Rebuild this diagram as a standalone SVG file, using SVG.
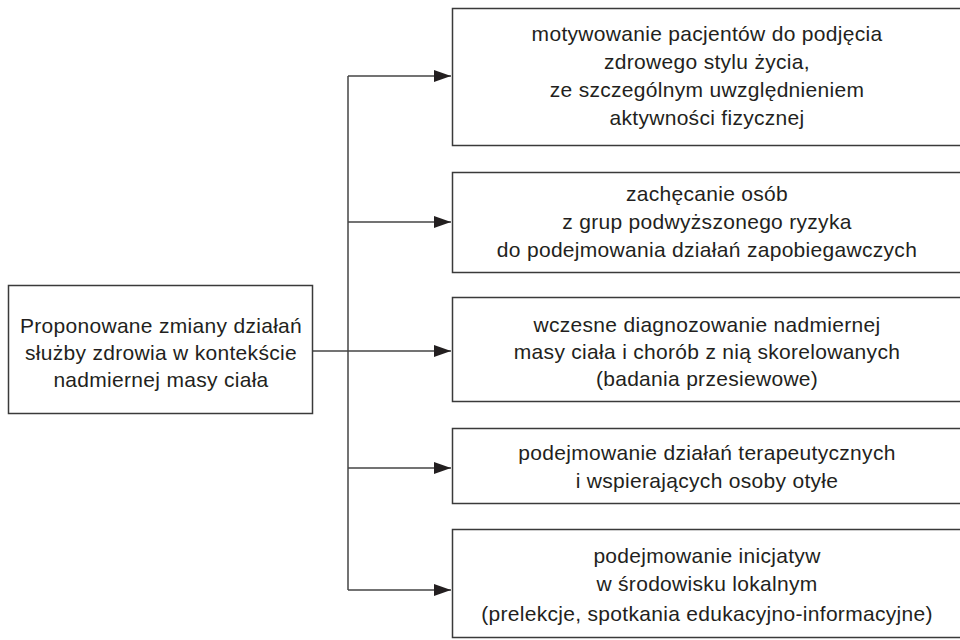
<svg xmlns="http://www.w3.org/2000/svg" width="960" height="640" viewBox="0 0 960 640">
<style>
.box{fill:#fff;stroke:#3a3a3a;stroke-width:1.5}
.t{font-family:"Liberation Sans",Arial,sans-serif;font-size:21px;letter-spacing:0.3px;fill:#231f20;text-anchor:middle}
.c{fill:none;stroke:#444;stroke-width:1.5}
</style>
<defs>
<marker id="ah" markerWidth="17" markerHeight="12" refX="17" refY="6" orient="auto" markerUnits="userSpaceOnUse">
<polygon points="0,0 17,6 0,12" fill="#231f20"/>
</marker>
</defs>
<rect width="960" height="640" fill="#fff"/>
<g id="connectors">
<path class="c" d="M348,76 V590"/>
<path class="c" d="M313,351 H451" marker-end="url(#ah)"/>
<path class="c" d="M348,76 H451" marker-end="url(#ah)"/>
<path class="c" d="M348,222 H451" marker-end="url(#ah)"/>
<path class="c" d="M348,468 H451" marker-end="url(#ah)"/>
<path class="c" d="M348,590 H451" marker-end="url(#ah)"/>
</g>
<g id="source">
<rect class="box" x="8.5" y="285.5" width="304" height="128"/>
<text class="t" x="161" y="333">Proponowane zmiany działań</text>
<text class="t" x="161" y="360">służby zdrowia w kontekście</text>
<text class="t" x="161" y="387">nadmiernej masy ciała</text>
</g>
<g id="n1">
<rect class="box" x="452.5" y="8.5" width="510" height="137"/>
<text class="t" x="707" y="41">motywowanie pacjentów do podjęcia</text>
<text class="t" x="707" y="69">zdrowego stylu życia,</text>
<text class="t" x="707" y="97">ze szczególnym uwzględnieniem</text>
<text class="t" x="707" y="125">aktywności fizycznej</text>
</g>
<g id="n2">
<rect class="box" x="452.5" y="172.5" width="510" height="100"/>
<text class="t" x="707" y="201">zachęcanie osób</text>
<text class="t" x="707" y="229">z grup podwyższonego ryzyka</text>
<text class="t" x="707" y="257">do podejmowania działań zapobiegawczych</text>
</g>
<g id="n3">
<rect class="box" x="452.5" y="297.5" width="510" height="104"/>
<text class="t" x="707" y="332">wczesne diagnozowanie nadmiernej</text>
<text class="t" x="707" y="359">masy ciała i chorób z nią skorelowanych</text>
<text class="t" x="707" y="386">(badania przesiewowe)</text>
</g>
<g id="n4">
<rect class="box" x="452.5" y="428.5" width="510" height="75"/>
<text class="t" x="707" y="460">podejmowanie działań terapeutycznych</text>
<text class="t" x="707" y="488">i wspierających osoby otyłe</text>
</g>
<g id="n5">
<rect class="box" x="452.5" y="529.5" width="510" height="108"/>
<text class="t" x="707" y="563">podejmowanie inicjatyw</text>
<text class="t" x="707" y="591">w środowisku lokalnym</text>
<text class="t" x="707" y="621">(prelekcje, spotkania edukacyjno-informacyjne)</text>
</g>
</svg>
